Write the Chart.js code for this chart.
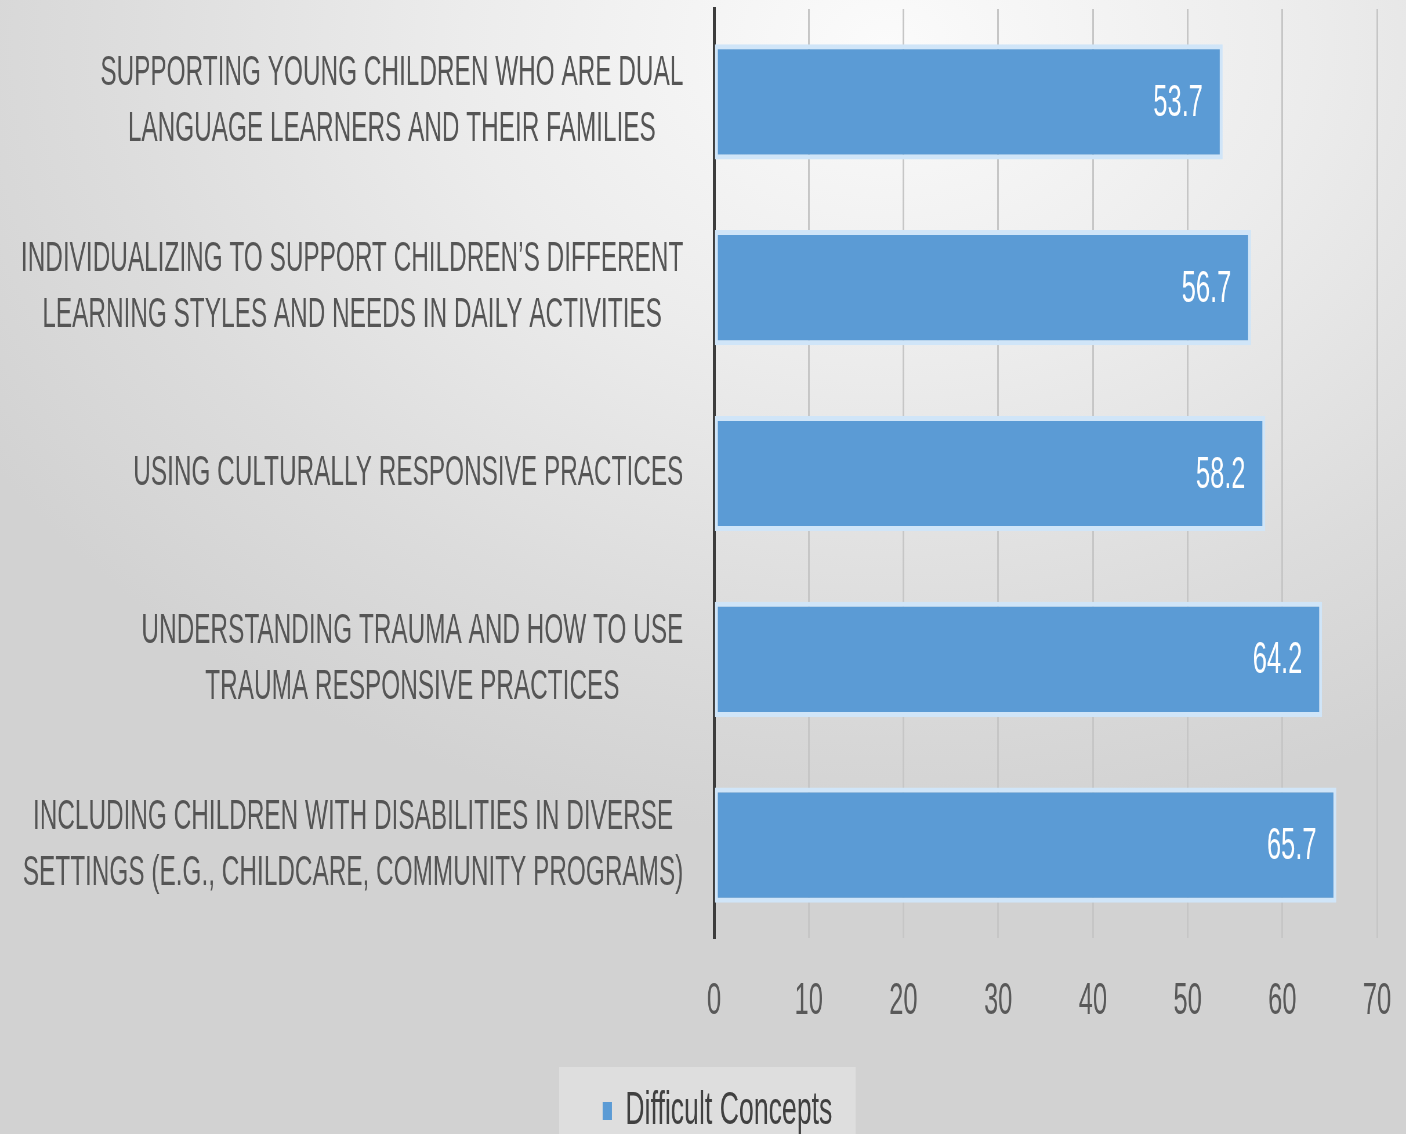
<!DOCTYPE html>
<html>
<head>
<meta charset="utf-8">
<script src="https://cdn.jsdelivr.net/npm/chart.js@4.4.1/dist/chart.umd.min.js"></script>
<style>
  html, body { margin:0; padding:0; width:1406px; height:1134px; overflow:hidden; }
  #bg { position:absolute; left:0; top:0; width:1406px; height:1134px;
        background: radial-gradient(ellipse 75% 70% at 63% 4%, #fbfbfb 0%, #ececec 40%, #dcdcdc 75%, #d2d2d2 100%); }
  #wrap { position:absolute; left:0; top:0; width:2424px; height:1134px; transform-origin:0 0; transform:scaleX(0.58004); }
</style>
</head>
<body>
<div id="bg"></div>
<div id="wrap"><canvas id="c" width="2424" height="1134"></canvas></div>
<script>
const categories = [
  ["SUPPORTING YOUNG CHILDREN WHO ARE DUAL", "LANGUAGE LEARNERS AND THEIR FAMILIES"],
  ["INDIVIDUALIZING TO SUPPORT CHILDREN\u2019S DIFFERENT", "LEARNING STYLES AND NEEDS IN DAILY ACTIVITIES"],
  ["USING CULTURALLY RESPONSIVE PRACTICES"],
  ["UNDERSTANDING TRAUMA AND HOW TO USE", "TRAUMA RESPONSIVE PRACTICES"],
  ["INCLUDING CHILDREN WITH DISABILITIES IN DIVERSE", "SETTINGS (E.G., CHILDCARE, COMMUNITY PROGRAMS)"]
];
const seriesName = "Difficult Concepts";
const values = [53.7, 56.7, 58.2, 64.2, 65.7];
const xTicks = [0, 10, 20, 30, 40, 50, 60, 70];

const FAMILY = '"Liberation Sans", Arial, sans-serif';

const catLabelPlugin = {
  id: 'catLabels',
  afterDraw(chart) {
    const ctx = chart.ctx, ys = chart.scales.y;
    ctx.save();
    ctx.font = '42px ' + FAMILY;
    ctx.fillStyle = '#555555';
    ctx.textAlign = 'center';
    ctx.textBaseline = 'middle';
    chart.data.labels.forEach((lines, i) => {
      const yc = ys.getPixelForValue(i);
      const bw = Math.max(...lines.map(l => ctx.measureText(l).width));
      const cx = ys.right - 53 - bw / 2;
      lines.forEach((l, j) => ctx.fillText(l, cx, yc + (j - (lines.length - 1) / 2) * 56));
    });
    ctx.restore();
  }
};

const valueLabelPlugin = {
  id: 'valueLabels',
  afterDatasetsDraw(chart) {
    const ctx = chart.ctx;
    const meta = chart.getDatasetMeta(0);
    ctx.save();
    ctx.font = '44px ' + FAMILY;
    ctx.fillStyle = '#ffffff';
    ctx.textAlign = 'right';
    ctx.textBaseline = 'middle';
    meta.data.forEach((bar, i) => {
      ctx.fillText(String(chart.data.datasets[0].data[i]), bar.x - 34, bar.y + 2);
    });
    ctx.restore();
  }
};

const legendBgPlugin = {
  id: 'legendBg',
  beforeDraw(chart) {
    const lg = chart.legend;
    if (!lg || !lg.legendHitBoxes || !lg.legendHitBoxes.length) return;
    const hb = lg.legendHitBoxes[0];
    const ctx = chart.ctx;
    ctx.save();
    ctx.fillStyle = 'rgba(255,255,255,0.28)';
    const top = hb.top - 21;
    ctx.fillRect(hb.left - 75, top, hb.width + 75 + 40, chart.height - top);
    ctx.restore();
  }
};

new Chart(document.getElementById('c'), {
  type: 'bar',
  data: {
    labels: categories,
    datasets: [{
      label: seriesName,
      data: values,
      backgroundColor: '#5b9bd5',
      borderColor: '#d0e5f8',
      borderWidth: 5,
      borderSkipped: false,
      categoryPercentage: 1.0,
      barPercentage: 0.62
    }]
  },
  options: {
    indexAxis: 'y',
    responsive: false,
    devicePixelRatio: 1,
    animation: false,
    layout: { padding: { top: 9, right: 50, left: 100, bottom: -10 } },
    scales: {
      x: {
        type: 'linear',
        min: xTicks[0],
        max: xTicks[xTicks.length - 1],
        afterBuildTicks(scale) { scale.ticks = xTicks.map(v => ({ value: v })); },
        ticks: { color: '#595959', font: { size: 44, family: FAMILY }, padding: 37 },
        grid: { color: '#c6c6c6', lineWidth: 3, drawTicks: false },
        border: { display: false },
        afterFit(scale) { scale.height = 150; scale.paddingRight = 0; scale.paddingLeft = 0; }
      },
      y: {
        ticks: { display: false },
        grid: { display: false },
        border: { display: true, color: '#3c3c3c', width: 5 },
        afterFit(scale) { scale.width = 1131; }
      }
    },
    plugins: {
      legend: {
        position: 'bottom',
        labels: {
          color: '#404040',
          font: { size: 46, family: FAMILY },
          boxWidth: 16,
          boxHeight: 18,
          padding: 0,
          generateLabels(chart) {
            const items = Chart.defaults.plugins.legend.labels.generateLabels(chart);
            items.forEach(it => { it.lineWidth = 0; it.strokeStyle = 'rgba(0,0,0,0)'; });
            return items;
          }
        }
      },
      tooltip: { enabled: false }
    }
  },
  plugins: [legendBgPlugin, catLabelPlugin, valueLabelPlugin]
});
</script>
</body>
</html>
